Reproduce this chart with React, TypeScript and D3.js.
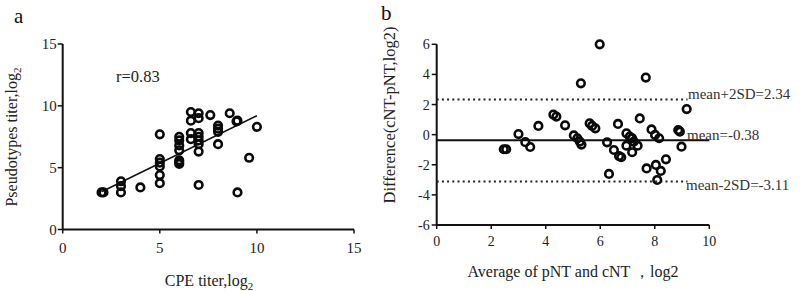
import React from "react";
import * as d3 from "d3";

// Panel a: CPE titer vs pseudotype titer (log2)
const aX = [2, 2.1, 3, 3, 3, 4, 5, 5, 5, 5, 5, 5, 6, 6, 6, 6, 6, 6, 6, 6.6, 6.6, 6.6, 6.6, 7, 7, 7, 7, 7, 7, 7, 7, 7.6, 8, 8, 8, 8, 8.6, 9, 8.95, 9, 9.6, 10];
const aY = [3, 3, 3.9, 3.5, 3, 3.4, 7.7, 5.7, 5.4, 5.1, 4.4, 3.75, 7.5, 7.2, 6.8, 6.4, 5.6, 5.3, 5.45, 9.5, 8.8, 7.8, 7.3, 9.4, 9.0, 7.8, 7.5, 7.2, 6.9, 6.3, 3.6, 9.25, 8.4, 8.15, 7.9, 6.9, 9.4, 8.8, 8.75, 3.0, 5.8, 8.3];
const aFitX = [2, 10];
const aFitY = [3.05, 9.2];
const aTicksX = [0, 5, 10, 15];
const aTicksY = [0, 5, 10, 15];
const aR = "r=0.83";

// Panel b: Bland-Altman
const bX = [2.46, 2.55, 3.0, 3.25, 3.43, 3.73, 4.28, 4.39, 4.71, 5.03, 5.16, 5.25, 5.31, 5.29, 5.61, 5.7, 5.82, 5.98, 6.25, 6.32, 6.5, 6.65, 6.69, 6.77, 6.96, 6.96, 7.08, 7.17, 7.23, 7.17, 7.37, 7.45, 7.67, 7.7, 7.88, 8.01, 8.04, 8.09, 8.16, 8.22, 8.41, 8.86, 8.92, 8.98, 9.17];
const bY = [-0.97, -0.97, 0.04, -0.5, -0.82, 0.58, 1.33, 1.2, 0.62, -0.05, -0.24, -0.46, -0.66, 3.41, 0.75, 0.58, 0.42, 6.0, -0.51, -2.61, -1.02, 0.71, -1.42, -1.5, 0.09, -0.73, -0.13, -0.24, -0.46, -1.17, -0.73, 1.08, 3.79, -2.24, 0.35, -0.02, -2.01, -3.01, -0.24, -2.41, -1.64, 0.31, 0.2, -0.8, 1.7];
const bTicksX = [0, 2, 4, 6, 8, 10];
const bTicksY = [-6, -4, -2, 0, 2, 4, 6];
const bMean = -0.38;
const bUpper = 2.34;
const bLower = -3.11;
const bLabels = ["mean+2SD=2.34", "mean=-0.38", "mean-2SD=-3.11"];

const FONT = '"Liberation Serif", Tinos, "Times New Roman", "DejaVu Serif", serif';

export default function App() {
  const ax = d3.scaleLinear().domain([0, 15]).range([62.7, 354]);
  const ay = d3.scaleLinear().domain([0, 15]).range([229.5, 44]);
  const bx = d3.scaleLinear().domain([0, 10]).range([436.7, 709.3]);
  const by = d3.scaleLinear().domain([-6, 6]).range([225, 44.3]);

  const fitLine = d3.line<number>().x((d, i) => ax(aFitX[i])).y((d) => ay(d));
  const ts = { fontFamily: FONT } as React.CSSProperties;

  return (
    <svg
      width={800}
      height={291}
      style={{ position: "absolute", left: 0, top: 0, background: "#fff", fontFamily: FONT }}
    >
      <rect x={0} y={0} width={800} height={291} fill="#fff" />
      {/* Panel a */}
      <text style={ts} x={14} y={23} fontSize={21} fill="#111">a</text>
      <line x1={ax(0)} x2={ax(0)} y1={ay(0)} y2={ay(15)} stroke="#111" strokeWidth={2} />
      <line x1={ax(0)} x2={ax(15)} y1={ay(0)} y2={ay(0)} stroke="#111" strokeWidth={2} />
      {aTicksY.map((t) => (
        <g key={"ay" + t}>
          <line x1={ax(0) - 5} x2={ax(0)} y1={ay(t)} y2={ay(t)} stroke="#111" strokeWidth={1.5} />
          <text style={ts} x={ax(0) - 6} y={ay(t) + 5} fontSize={15} textAnchor="end" fill="#222">{t}</text>
        </g>
      ))}
      {aTicksX.map((t) => (
        <g key={"ax" + t}>
          <line x1={ax(t)} x2={ax(t)} y1={ay(0)} y2={ay(0) + 4} stroke="#111" strokeWidth={1.5} />
          <text style={ts} x={ax(t)} y={253} fontSize={15} textAnchor="middle" fill="#222">{t}</text>
        </g>
      ))}
      <text style={ts} x={209} y={285.5} fontSize={16} textAnchor="middle" fill="#222">
        CPE titer,log<tspan fontSize={11} dy={4}>2</tspan>
      </text>
      <text style={ts} transform="translate(17,137) rotate(-90)" fontSize={16} textAnchor="middle" fill="#222">
        Pseudotypes titer,log<tspan fontSize={11} dy={4}>2</tspan>
      </text>
      <text style={ts} x={116} y={82} fontSize={16.5} fill="#222">{aR}</text>
      <path d={fitLine(aFitY) || ""} stroke="#111" strokeWidth={1.6} fill="none" />
      {aX.map((x, i) => (
        <circle key={"pa" + i} cx={ax(x)} cy={ay(aY[i])} r={3.8} fill="none" stroke="#0a0a0a" strokeWidth={2.6} />
      ))}

      {/* Panel b */}
      <text style={ts} x={381} y={20} fontSize={21} fill="#111">b</text>
      <line x1={bx(0)} x2={bx(0)} y1={by(-6)} y2={by(6)} stroke="#111" strokeWidth={2} />
      <line x1={bx(0)} x2={bx(10)} y1={by(-6)} y2={by(-6)} stroke="#111" strokeWidth={2} />
      {bTicksY.map((t) => (
        <g key={"by" + t}>
          <line x1={bx(0) - 5} x2={bx(0)} y1={by(t)} y2={by(t)} stroke="#111" strokeWidth={1.5} />
          <text style={ts} x={bx(0) - 7} y={by(t) + 5} fontSize={14} textAnchor="end" fill="#222">{t}</text>
        </g>
      ))}
      {bTicksX.map((t) => (
        <g key={"bx" + t}>
          <line x1={bx(t)} x2={bx(t)} y1={by(-6)} y2={by(-6) + 4} stroke="#111" strokeWidth={1.5} />
          <text style={ts} x={bx(t)} y={246} fontSize={14} textAnchor="middle" fill="#222">{t}</text>
        </g>
      ))}
      <text style={ts} x={573} y={277} fontSize={16} textAnchor="middle" fill="#222">Average of pNT and cNT ，log2</text>
      <text style={ts} transform="translate(395,115) rotate(-90)" fontSize={16.5} textAnchor="middle" fill="#222">
        Difference(cNT-pNT,log2)
      </text>
      <line x1={bx(0)} x2={bx(10)} y1={by(bMean)} y2={by(bMean)} stroke="#111" strokeWidth={2} />
      <line x1={bx(0)} x2={bx(9.2)} y1={by(bUpper)} y2={by(bUpper)} stroke="#222" strokeWidth={2} strokeDasharray="2,3.2" />
      <line x1={bx(0)} x2={bx(9.2)} y1={by(bLower)} y2={by(bLower)} stroke="#222" strokeWidth={2} strokeDasharray="2,3.2" />
      <text style={ts} x={688} y={99} fontSize={15} fill="#333">{bLabels[0]}</text>
      <text style={ts} x={687} y={140} fontSize={15} fill="#333">{bLabels[1]}</text>
      <text style={ts} x={686} y={190} fontSize={15} fill="#333">{bLabels[2]}</text>
      {bX.map((x, i) => (
        <circle key={"pb" + i} cx={bx(x)} cy={by(bY[i])} r={3.8} fill="none" stroke="#0a0a0a" strokeWidth={2.6} />
      ))}
    </svg>
  );
}
